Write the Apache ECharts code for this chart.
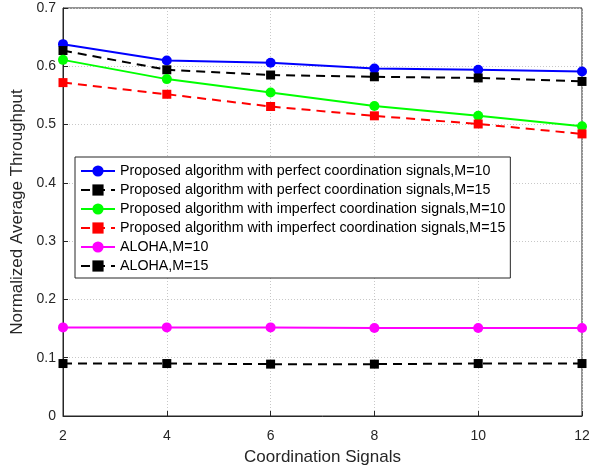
<!DOCTYPE html>
<html><head><meta charset="utf-8">
<script src="https://cdn.jsdelivr.net/npm/echarts@6/dist/echarts.min.js"></script>
<style>html,body{margin:0;padding:0;background:#fff}#c{width:596px;height:472px}</style>
</head><body><div id="c"></div>
<script>
const xValues = [2, 4, 6, 8, 10, 12];
const perfectM10 = [0.638, 0.610, 0.606, 0.596, 0.594, 0.591];
const perfectM15 = [0.627, 0.594, 0.585, 0.582, 0.580, 0.574];
const imperfectM10 = [0.611, 0.578, 0.555, 0.532, 0.515, 0.497];
const imperfectM15 = [0.572, 0.552, 0.531, 0.515, 0.501, 0.484];
const alohaM10 = [0.152, 0.152, 0.152, 0.151, 0.151, 0.151];
const alohaM15 = [0.090, 0.090, 0.089, 0.089, 0.090, 0.090];
const names = [
  'Proposed algorithm with perfect coordination signals,M=10',
  'Proposed algorithm with perfect coordination signals,M=15',
  'Proposed algorithm with imperfect coordination signals,M=10',
  'Proposed algorithm with imperfect coordination signals,M=15',
  'ALOHA,M=10',
  'ALOHA,M=15'
];
const FONT = 'Liberation Sans, Arial, sans-serif';
function mk(name, vals, color, symbol, dashed) {
  return {
    name: name, type: 'line',
    data: xValues.map((x, i) => [x, vals[i]]),
    symbol: symbol, symbolSize: symbol === 'circle' ? 10 : 9,
    itemStyle: { color: color },
    lineStyle: { color: color, width: 2, type: dashed ? [9, 6] : 'solid' },
    emphasis: { disabled: true }, animation: false
  };
}
const chart = echarts.init(document.getElementById('c'), null, { renderer: 'canvas' });
chart.setOption({
  animation: false,
  textStyle: { fontFamily: FONT },
  grid: { left: 63, right: 14, top: 8, bottom: 56, show: true, borderColor: '#262626', borderWidth: 1 },
  xAxis: {
    type: 'value', min: 2, max: 12, interval: 2,
    name: 'Coordination Signals', nameLocation: 'middle', nameGap: 33,
    nameTextStyle: { fontSize: 17, color: '#262626', fontFamily: FONT },
    axisLine: { lineStyle: { color: '#262626' } },
    axisTick: { inside: true, length: 5, lineStyle: { color: '#262626' } },
    axisLabel: { fontSize: 14, color: '#262626', margin: 13, fontFamily: FONT },
    splitLine: { show: true, lineStyle: { color: '#c8c8c8', type: [1, 2] } }
  },
  yAxis: {
    type: 'value', min: 0, max: 0.7, interval: 0.1,
    name: 'Normalized Average Throughput', nameLocation: 'middle', nameGap: 35,
    nameTextStyle: { fontSize: 17, color: '#262626', fontFamily: FONT },
    axisLine: { show: true, lineStyle: { color: '#262626' } },
    axisTick: { show: true, inside: true, length: 5, lineStyle: { color: '#262626' } },
    axisLabel: { fontSize: 14, color: '#262626', margin: 7, fontFamily: FONT,
      formatter: v => v === 0 ? '0' : v.toFixed(1) },
    splitLine: { show: true, lineStyle: { color: '#c8c8c8', type: [1, 2] } }
  },
  legend: {
    orient: 'vertical', left: 75, top: 157,
    data: names,
    backgroundColor: '#fff', borderColor: '#262626', borderWidth: 1,
    padding: [7, 5, 5, 5], itemWidth: 34, itemHeight: 14, itemGap: 5,
    textStyle: { fontSize: 14.25, color: '#000', fontFamily: FONT },
    selectedMode: false
  },
  series: [
    mk(names[0], perfectM10, '#0000ff', 'circle', false),
    mk(names[1], perfectM15, '#000000', 'rect', true),
    mk(names[2], imperfectM10, '#00ff00', 'circle', false),
    mk(names[3], imperfectM15, '#ff0000', 'rect', true),
    mk(names[4], alohaM10, '#ff00ff', 'circle', false),
    mk(names[5], alohaM15, '#000000', 'rect', true)
  ]
});
</script></body></html>
